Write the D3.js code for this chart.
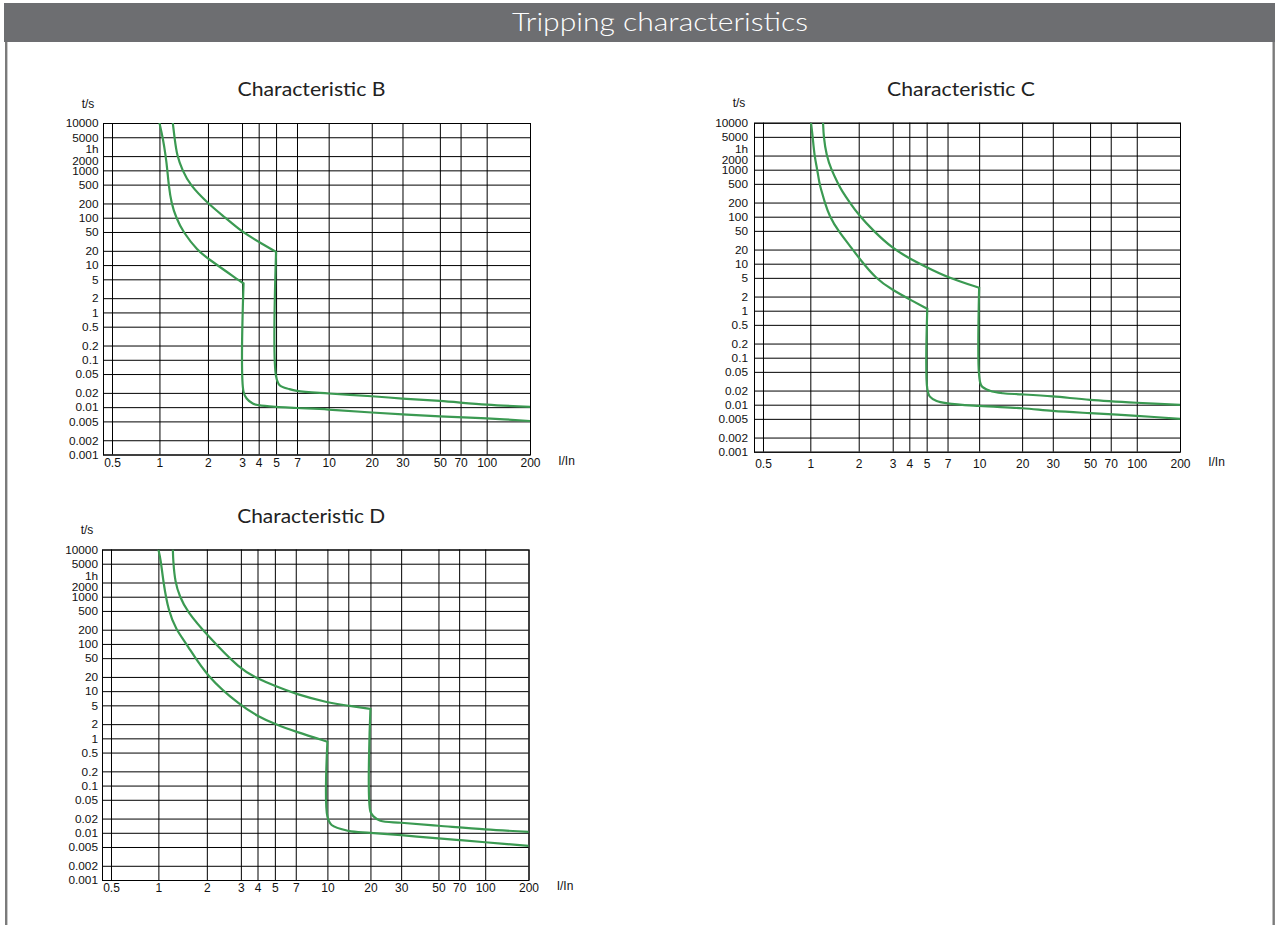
<!DOCTYPE html>
<html><head><meta charset="utf-8">
<script src="https://cdn.jsdelivr.net/npm/d3@7"></script>
<style>
html,body{margin:0;padding:0;background:#fff;}
svg{display:block;}
</style></head><body>
<svg id="c" width="1277" height="925"></svg>
<script>
// ---------- data ----------
const pageTitle = "Tripping characteristics";
const chartTitles = ["Characteristic B", "Characteristic C", "Characteristic D"];
const xTicks = [0.5, 1, 2, 3, 4, 5, 7, 10, 20, 30, 50, 70, 100, 200];
const xTickLabels = ["0.5", "1", "2", "3", "4", "5", "7", "10", "20", "30", "50", "70", "100", "200"];
const xExtraGridD = [14];
const yTicks = [10000, 5000, 2000, 1000, 500, 200, 100, 50, 20, 10, 5, 2, 1, 0.5, 0.2, 0.1, 0.05, 0.02, 0.01, 0.005, 0.002, 0.001];
const yTickLabels = ["10000", "5000", "2000", "1000", "500", "200", "100", "50", "20", "10", "5", "2", "1", "0.5", "0.2", "0.1", "0.05", "0.02", "0.01", "0.005", "0.002", "0.001"];
const hourValue = 3600;
const hourLabel = "1h";
const yAxisLabel = "t/s";
const xAxisLabel = "I/In";

// [I/In, t/s] points; each curve = thermal part + instantaneous part
const bLowerThermal = [[1.0,10000],[1.048,5000],[1.094,2000],[1.12,1000],[1.14,500],[1.186,200],[1.27,100],[1.40,50],[1.73,20],[2.0,13.7],[2.84,5],[3.08,4.1]];
const bLowerInstant = [[3.08,4.1],[3.08,0.021],[3.25,0.0152],[3.61,0.0119],[4,0.011],[5,0.0101],[7,0.0096],[10,0.0089],[20,0.0077],[50,0.0064],[100,0.0058],[200,0.0051]];
const bUpperThermal = [[1.21,10000],[1.24,5000],[1.285,2000],[1.39,1000],[1.54,500],[2,200],[2.46,100],[3,50],[4,31],[5,19]];
const bUpperInstant = [[5,19],[5,0.045],[5.3,0.029],[6.2,0.024],[7,0.022],[10,0.0194],[20,0.017],[30,0.0152],[50,0.0135],[100,0.0113],[200,0.0101]];

const cLowerThermal = [[1.01,10000],[1.035,5000],[1.06,2000],[1.105,1000],[1.14,500],[1.17,370],[1.23,200],[1.32,100],[1.49,50],[1.84,20],[2,13.4],[2.47,4.66],[3,2.75],[4,1.75],[5.05,1.1]];
const cLowerInstant = [[5.05,1.1],[5.05,0.022],[5.27,0.0148],[5.87,0.012],[7,0.0107],[10,0.0094],[20,0.0084],[30,0.0074],[50,0.0066],[100,0.0058],[200,0.005]];
const cUpperThermal = [[1.2,10000],[1.21,5000],[1.26,2000],[1.35,1000],[1.49,500],[1.56,370],[1.76,200],[2,109],[2.38,50],[3,21],[4,13],[5,8.4],[7,5.1],[10,3.08]];
const cUpperInstant = [[10,3.08],[10,0.042],[10.4,0.025],[11.9,0.0198],[14.7,0.0175],[20,0.0166],[30,0.015],[50,0.0127],[100,0.011],[200,0.0099]];

const dLowerThermal = [[1.0,10000],[1.035,6000],[1.074,2000],[1.154,500],[1.288,200],[1.5,100],[2,20],[3,4.9],[4,2.97],[5,2.0],[7,1.38],[10,0.85]];
const dLowerInstant = [[10,0.85],[10,0.022],[10.7,0.0146],[14,0.011],[20,0.01],[30,0.0089],[50,0.0076],[70,0.007],[100,0.0063],[200,0.0053]];
const dUpperThermal = [[1.23,10000],[1.235,6000],[1.27,2000],[1.36,1000],[1.5,500],[2,155],[3,28],[4,18.7],[5,12.8],[7,8.7],[10,5.7],[14,4.9],[20,4.2]];
const dUpperInstant = [[20,4.2],[20,0.028],[20.9,0.022],[22.8,0.018],[30,0.0163],[50,0.0141],[100,0.0118],[200,0.0105]];

// ---------- layout ----------
const W = 1277, H = 925;
// the printed I/In axis is a hand-drawn, slightly non-uniform log axis:
// relative position (0..1 of plot width) of each x tick, left edge at xMin
const xMin = 0.44;
const xTickFrac = [0.0211, 0.1322, 0.2458, 0.3256, 0.3646, 0.4053, 0.4543, 0.5285, 0.6294, 0.7014, 0.7889, 0.8374, 0.8985, 1];
const yDomain = [0.001, 10000];
const GREEN = "#3b9a52";
const FONT = "'Liberation Sans', Arial, Helvetica, sans-serif";
const TITLE_FONT = "Lato, 'Open Sans', sans-serif";

const panels = [
  {title: chartTitles[0], left: 103, top: 123, w: 427, h: 331.5, yPad: 4.5, xLab: 8.5, tdx: -5, curves: [[bLowerThermal, bLowerInstant], [bUpperThermal, bUpperInstant]], extra: []},
  {title: chartTitles[1], left: 754, top: 122.7, w: 426, h: 329, yPad: 6, xLab: 12, tdx: -6, curves: [[cLowerThermal, cLowerInstant], [cUpperThermal, cUpperInstant]], extra: []},
  {title: chartTitles[2], left: 102, top: 549.5, w: 426.5, h: 330.5, yPad: 4, xLab: 8, tdx: -4, curves: [[dLowerThermal, dLowerInstant], [dUpperThermal, dUpperInstant]], extra: xExtraGridD}
];

const svg = d3.select("#c");
svg.append("rect").attr("width", W).attr("height", H).attr("fill", "#fff");

// header
svg.append("rect").attr("x", 4).attr("y", 3).attr("width", 1271).attr("height", 39).attr("fill", "#6d6e71");
svg.append("text").attr("x", 660).attr("y", 21)
  .attr("text-anchor", "middle").attr("dominant-baseline", "central")
  .attr("font-family", TITLE_FONT).attr("font-weight", 300)
  .attr("font-size", 25).attr("fill", "#fff")
  .attr("textLength", 296).attr("lengthAdjust", "spacingAndGlyphs").text(pageTitle);
// side borders
svg.append("line").attr("x1", 6.2).attr("x2", 6.2).attr("y1", 42).attr("y2", H).attr("stroke", "#7b7b7b").attr("stroke-width", 2.4);
svg.append("line").attr("x1", 1273.7).attr("x2", 1273.7).attr("y1", 42).attr("y2", H).attr("stroke", "#7b7b7b").attr("stroke-width", 2.4);

const log = Math.log10;
const xLabelMap = new Map(xTicks.map((v, i) => [log(v), xTickLabels[i]]));
const yLabelMap = new Map(yTicks.map((v, i) => [v, yTickLabels[i]]));

panels.forEach((p, pi) => {
  const g = svg.append("g").attr("transform", `translate(${p.left},${p.top})`);
  // piecewise log scale (domain in log10 units)
  const xs = d3.scaleLinear()
    .domain([log(xMin)].concat(xTicks.map(log)))
    .range([0].concat(xTickFrac.map(f => f * p.w)));
  const x = v => xs(log(v));
  const y = d3.scaleLog().domain(yDomain).range([p.h, 0]);

  // vertical grid + x labels
  const xg = g.append("g").attr("transform", `translate(0,${p.h})`)
    .call(d3.axisBottom(xs).tickValues(xTicks.concat(p.extra).map(log)).tickSize(-p.h).tickPadding(p.xLab - 4.5)
      .tickFormat(v => xLabelMap.has(v) ? xLabelMap.get(v) : ""));
  xg.select(".domain").remove();
  xg.selectAll(".tick line").attr("stroke", "#000").attr("stroke-width", 1);
  xg.selectAll(".tick text").attr("font-family", FONT).attr("font-size", 12).attr("fill", "#111");

  // horizontal grid + y labels
  const yg = g.append("g")
    .call(d3.axisLeft(y).tickValues(yTicks).tickSize(-p.w).tickPadding(p.yPad)
      .tickFormat(v => yLabelMap.get(v)));
  yg.select(".domain").remove();
  yg.selectAll(".tick line").attr("stroke", "#000").attr("stroke-width", 1);
  yg.selectAll(".tick text").attr("font-family", FONT).attr("font-size", 11.8).attr("fill", "#111")
    .attr("y", d => d === 2000 ? 4.5 : 0);
  g.append("text").attr("x", -p.yPad).attr("y", y(hourValue) + 5.5).attr("dy", "0.32em")
    .attr("text-anchor", "end").attr("font-family", FONT).attr("font-size", 11.8).attr("fill", "#111")
    .text(hourLabel);

  // frame
  g.append("rect").attr("x", 0.5).attr("y", 0.5).attr("width", p.w).attr("height", p.h)
    .attr("fill", "none").attr("stroke", "#000").attr("stroke-width", 1);

  // labels
  g.append("text").attr("x", p.w / 2 + p.tdx).attr("y", -34.5).attr("dominant-baseline", "central")
    .attr("text-anchor", "middle").attr("font-family", TITLE_FONT).attr("font-weight", 400)
    .attr("font-size", 19.5).attr("fill", "#222")
    .attr("textLength", 148).attr("lengthAdjust", "spacingAndGlyphs").text(p.title);
  g.append("text").attr("x", -15).attr("y", -19.5).attr("dominant-baseline", "central")
    .attr("text-anchor", "middle").attr("font-family", FONT).attr("font-size", 12).attr("fill", "#111").text(yAxisLabel);
  g.append("text").attr("x", p.w + 36.5).attr("y", p.h + p.xLab - 2).attr("dominant-baseline", "central")
    .attr("text-anchor", "middle").attr("font-family", FONT).attr("font-size", 12).attr("fill", "#111").text(xAxisLabel);

  // curves: thermal part smoothed (B-spline), instantaneous part through points
  const clipId = "clip" + pi;
  g.append("clipPath").attr("id", clipId).append("rect").attr("width", p.w + 1).attr("height", p.h + 1);
  const thermalLine = d3.line().x(d => x(d[0])).y(d => y(d[1])).curve(d3.curveBasis);
  const instantLine = d3.line().x(d => x(d[0])).y(d => y(d[1])).curve(d3.curveCatmullRom.alpha(0.5));
  const cg = g.append("g").attr("clip-path", `url(#${clipId})`);
  p.curves.forEach(([th, ins]) => {
    cg.append("path").attr("d", thermalLine(th) + instantLine(ins).replace(/^M[^CLQ]*/, m => "L" + m.slice(1)))
      .attr("fill", "none").attr("stroke", GREEN).attr("stroke-width", 2.2)
      .attr("stroke-linejoin", "miter");
  });
});
</script>
</body></html>
